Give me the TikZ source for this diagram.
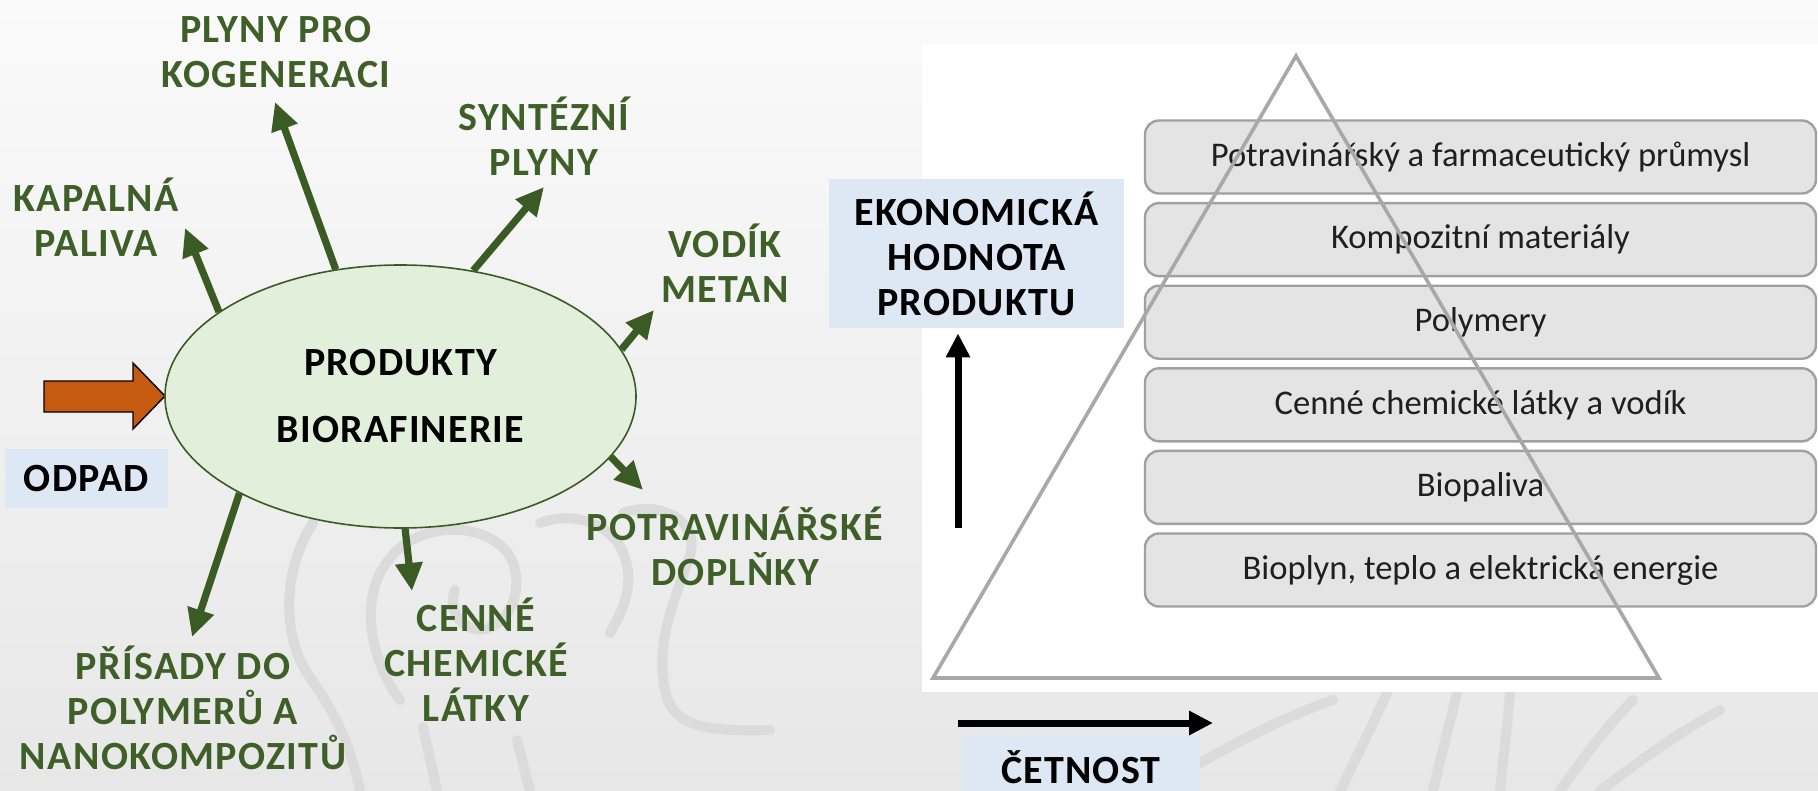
\documentclass[tikz,border=0pt]{standalone}
\usepackage{fontspec}
\setmainfont{Carlito}
\newfontfamily\grnfont[LetterSpace=3.5]{Carlito}
\newfontfamily\blkfont[LetterSpace=3]{Carlito}
\usetikzlibrary{shapes.geometric,arrows.meta}
\definecolor{grn}{HTML}{3B5B24}
\definecolor{txtgrn}{HTML}{3E5F27}
\definecolor{ellfill}{HTML}{E2EFDA}
\definecolor{orng}{HTML}{C55A11}
\definecolor{lblue}{HTML}{DDE8F4}
\definecolor{boxfill}{HTML}{E4E4E4}
\definecolor{boxline}{HTML}{A0A0A0}
\definecolor{triline}{HTML}{A8A8A8}
\definecolor{wmark}{HTML}{DBDBDB}
\definecolor{bgtop}{HTML}{FAFAFA}
\definecolor{bgbot}{HTML}{E7E7E7}
\tikzset{
  glabel/.style={text=txtgrn, font=\grnfont\bfseries\fontsize{20}{22.5}\selectfont, align=center, inner sep=0pt},
  garrow/.style={draw=grn, line width=3.6pt, -{Triangle[length=14pt,width=13pt]}},
  barrow/.style={draw=black, line width=3.5pt, -{Triangle[length=12pt,width=11.5pt]}},
  tier/.style={draw=boxline, line width=1.2pt, fill=boxfill, rounded corners=7pt,
    minimum width=335.5pt, minimum height=36.5pt, inner sep=0pt,
    font=\fontsize{17.3}{20}\selectfont, text=black!88},
  bluebox/.style={fill=lblue, inner sep=0pt, align=center, text=black,
    font=\blkfont\bfseries\fontsize{20}{22.5}\selectfont},
}
\begin{document}
\begin{tikzpicture}[x=0.5pt,y=-0.5pt]
\useasboundingbox (0,0) rectangle (1818,791);
% background
\shade[top color=bgtop, bottom color=bgbot] (0,0) rectangle (1818,791);
% faint watermark strokes
\begin{scope}[wmark, line width=5pt, line cap=round]
  \draw (313,523) .. controls (285,565) and (280,630) .. (307,673) .. controls (330,705) and (350,740) .. (360,791);
  \draw (400,700) .. controls (370,660) and (360,600) .. (385,565) .. controls (410,525) and (470,520) .. (500,545)
        .. controls (525,565) and (520,610) .. (495,625) .. controls (470,640) and (445,615) .. (455,590);
  \draw (540,523) .. controls (575,510) and (610,525) .. (622,550) .. controls (638,585) and (620,615) .. (610,633);
  \draw (623,513) .. controls (660,500) and (700,520) .. (690,555) .. controls (675,600) and (655,640) .. (665,690)
        .. controls (672,725) and (700,732) .. (770,730);
  \draw (423,727) -- (437,791);
  \draw (517,740) -- (530,791);
  \draw (1200,763) .. controls (1250,735) and (1290,715) .. (1333,700);
  \draw (1387,693) .. controls (1370,730) and (1355,760) .. (1340,791);
  \draw (1457,693) .. controls (1448,730) and (1440,760) .. (1433,791);
  \draw (1510,693) .. controls (1507,730) and (1503,760) .. (1500,791);
  \draw (1560,791) .. controls (1585,755) and (1608,725) .. (1633,700);
  \draw (1600,791) .. controls (1640,760) and (1680,732) .. (1720,710);
\end{scope}
% white panel
\fill[white] (922,44) rectangle (1818,692);
% pyramid tiers
\node[tier] (t1) at (1480.5,157)   {Potravinářský a farmaceutický průmysl};
\node[tier] (t2) at (1480.5,239.6) {Kompozitní materiály};
\node[tier] (t3) at (1480.5,322.2) {Polymery};
\node[tier] (t4) at (1480.5,404.8) {Cenné chemické látky a vodík};
\node[tier] (t5) at (1480.5,487.4) {Biopaliva};
\node[tier] (t6) at (1480.5,570)   {Bioplyn, teplo a elektrická energie};
% triangle
\draw[triline, line width=1.8pt, line join=miter] (1296,56) -- (1659,678) -- (933,678) -- cycle;
% axis labels
\node[bluebox, minimum width=147.5pt, minimum height=74.5pt] (eko) at (976.5,253.5) {EKONOMICKÁ\\HODNOTA\\PRODUKTU};
\node[bluebox, minimum width=119pt, minimum height=32.5pt] (cet) at (1081,767.5) {ČETNOST};
\coordinate (vbot) at (958,528);
\draw[barrow, shorten >=2.5pt] (vbot) -- (vbot |- eko.south);
\coordinate (hstart) at (958,723);
\coordinate (hend) at (1213,723);
\draw[barrow] (hstart) -- (hend);
% input
\node[bluebox, minimum width=81.5pt, minimum height=29.5pt] (odpad) at (86.5,478.5) {ODPAD};
\draw[fill=orng, draw=black, line width=0.7pt, line join=miter] (44,381) -- (133,381) -- (133,363) -- (165,396) -- (133,429) -- (133,412) -- (44,412) -- cycle;
% ellipse
\node[ellipse, draw=grn, line width=0.8pt, fill=ellfill, minimum width=235.5pt, minimum height=131.5pt,
  inner sep=0pt, align=center, font=\blkfont\bfseries\fontsize{20}{33.5}\selectfont] (ell) at (400.5,396.5)
  {PRODUKTY\\BIORAFINERIE};
% output labels
\node[glabel] (lK) at (96,217)  {KAPALNÁ\\PALIVA};
\node[glabel] (lP) at (276,52)  {PLYNY PRO\\KOGENERACI};
\node[glabel] (lS) at (544,136) {SYNTÉZNÍ\\PLYNY};
\node[glabel] (lV) at (725,263) {VODÍK\\METAN};
\node[glabel] (lD) at (735,546) {POTRAVINÁŘSKÉ\\DOPLŇKY};
\node[glabel] (lC) at (476,660) {CENNÉ\\CHEMICKÉ\\LÁTKY};
\node[glabel] (lA) at (183,708) {PŘÍSADY DO\\POLYMERŮ A\\NANOKOMPOZITŮ};
% arrow tips
\coordinate (tK) at (185,228);
\coordinate (tP) at (275,102);
\coordinate (tS) at (544,187);
\coordinate (tV) at (654,310);
\coordinate (tD) at (643,490);
\coordinate (tC) at (412,591);
\coordinate (tA) at (192,637);
\draw[garrow] (ell.155.06) -- (tK);
\draw[garrow] (ell.117.7) -- (tP);
\draw[garrow] (ell.60.87) -- (tS);
\draw[garrow] (ell.12.46) -- (tV);
\draw[garrow] (ell.-16.76) -- (tD);
\draw[garrow] (ell.-88.04) -- (tC);
\draw[garrow] (ell.-149.86) -- (tA);
\end{tikzpicture}
\end{document}
